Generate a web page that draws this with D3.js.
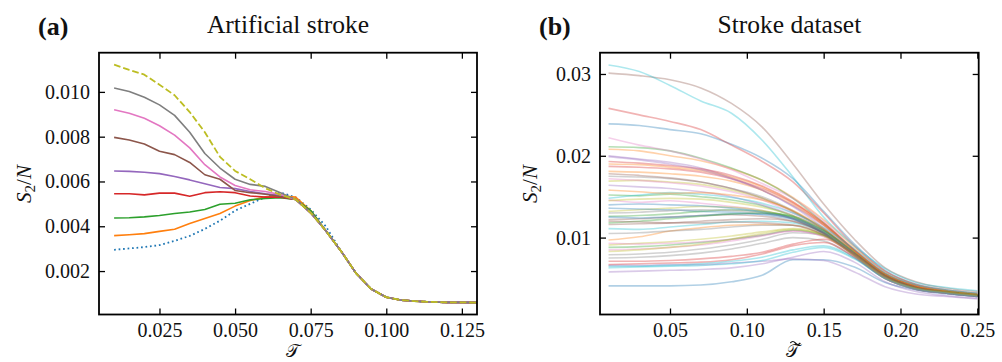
<!DOCTYPE html>
<html>
<head>
<meta charset="utf-8">
<script src="https://cdn.jsdelivr.net/npm/d3@7"></script>
<style>
  body { margin: 0; background: #fff; }
  svg { display: block; }
  text { font-family: "Liberation Serif", "Times New Roman", "DejaVu Serif", serif; fill: #111; }
</style>
</head>
<body>
<svg id="fig" width="1002" height="362"></svg>
<script>
// ---------- panel (a): artificial stroke ----------
const tauA = [0.010, 0.015, 0.020, 0.025, 0.030, 0.035, 0.040, 0.045, 0.050, 0.055,
              0.060, 0.065, 0.070, 0.075, 0.080, 0.085, 0.090, 0.095, 0.100, 0.105,
              0.110, 0.115, 0.120, 0.125, 0.130];
// all curves collapse onto the same tail after tau = 0.080
const tailA = [0.0029, 0.0019, 0.0012, 0.00083, 0.0007, 0.00065, 0.00062, 0.0006, 0.0006, 0.00059];

const blueA   = [0.00295, 0.00301, 0.00307, 0.00316, 0.00335, 0.00357, 0.00388, 0.00425, 0.0047, 0.005, 0.0053, 0.0055, 0.0053, 0.00475, 0.0040];
const orangeA = [0.00358, 0.00362, 0.00367, 0.00377, 0.00387, 0.00412, 0.00435, 0.00457, 0.0049, 0.00515, 0.0053, 0.00535, 0.0053, 0.0047, 0.0038];
const greenA  = [0.00437, 0.00438, 0.00442, 0.00448, 0.00457, 0.00464, 0.00475, 0.00498, 0.00503, 0.00518, 0.00524, 0.00527, 0.0052, 0.0047, 0.0038];
const redA    = [0.00545, 0.00545, 0.0054, 0.00548, 0.00548, 0.00534, 0.0055, 0.00554, 0.0055, 0.00535, 0.0053, 0.0053, 0.0052, 0.0046, 0.0038];
const purpleA = [0.00647, 0.00645, 0.00641, 0.00635, 0.00622, 0.00607, 0.0059, 0.00573, 0.00568, 0.00555, 0.00545, 0.00538, 0.0052, 0.0046, 0.0038];
const brownA  = [0.00797, 0.00785, 0.00767, 0.00735, 0.0072, 0.00685, 0.0063, 0.0061, 0.0056, 0.0055, 0.00543, 0.00533, 0.0052, 0.0046, 0.0038];
const pinkA   = [0.0092, 0.00905, 0.00882, 0.00849, 0.00807, 0.0075, 0.00675, 0.0062, 0.00582, 0.00563, 0.00555, 0.00542, 0.0052, 0.0046, 0.0038];
const grayA   = [0.01017, 0.01002, 0.00976, 0.00942, 0.00895, 0.0082, 0.00725, 0.0066, 0.0061, 0.00587, 0.00578, 0.0055, 0.0052, 0.0046, 0.0038];
const oliveA  = [0.01122, 0.01098, 0.01077, 0.01032, 0.00985, 0.0091, 0.0082, 0.0071, 0.00647, 0.0061, 0.0057, 0.0054, 0.0052, 0.0046, 0.0038];

const seriesA = [
  { vals: blueA,   color: "#1f77b4", dash: "1.7,2.8" },
  { vals: orangeA, color: "#ff7f0e" },
  { vals: greenA,  color: "#2ca02c" },
  { vals: redA,    color: "#d62728" },
  { vals: purpleA, color: "#9467bd" },
  { vals: brownA,  color: "#8c564b" },
  { vals: pinkA,   color: "#e377c2" },
  { vals: grayA,   color: "#7f7f7f" },
  { vals: oliveA,  color: "#bcbd22", dash: "6.7,2.9" }
];
const xTicksA = [0.025, 0.050, 0.075, 0.100, 0.125];
const yTicksA = [0.002, 0.004, 0.006, 0.008, 0.010];

// ---------- panel (b): stroke dataset (values in units of 1e-3) ----------
const tauB = [0.01, 0.03, 0.05, 0.07, 0.09, 0.11, 0.13, 0.15, 0.17, 0.19, 0.21, 0.23, 0.25];
const curvesB = [
  [23.9, 23.7, 23.2, 22.7, 21.4, 19.7, 17.2, 13.2, 9.2, 6.0, 4.3, 3.6, 3.2],
  [20.8, 20.6, 20.0, 19.4, 18.4, 17.0, 14.9, 12.2, 8.8, 5.8, 4.2, 3.5, 3.1],
  [21.1, 21.0, 20.6, 19.7, 18.5, 17.0, 14.8, 11.8, 8.4, 5.6, 4.1, 3.4, 3.0],
  [25.8, 25.0, 24.2, 23.2, 21.3, 19.3, 16.8, 13.0, 9.0, 5.9, 4.3, 3.6, 3.2],
  [20.0, 19.6, 19.2, 18.5, 17.3, 15.8, 13.9, 11.5, 8.2, 5.4, 4.0, 3.3, 2.9],
  [30.1, 29.8, 29.3, 28.3, 26.4, 23.5, 19.0, 14.1, 9.8, 6.3, 4.6, 3.8, 3.4],
  [22.2, 21.3, 20.6, 19.6, 18.3, 16.6, 14.8, 12.0, 8.5, 5.6, 4.1, 3.4, 3.0],
  [17.5, 17.4, 17.2, 16.8, 16.0, 15.0, 13.3, 11.0, 8.0, 5.3, 3.9, 3.3, 2.9],
  [16.9, 17.0, 16.8, 16.5, 15.8, 14.8, 13.2, 11.0, 8.0, 5.4, 4.0, 3.3, 2.9],
  [31.1, 30.3, 28.6, 26.7, 25.2, 21.9, 17.4, 12.5, 9.0, 6.2, 4.5, 3.9, 3.5],
  [4.1, 4.1, 4.1, 4.2, 4.6, 5.4, 7.3, 7.3, 6.4, 4.5, 3.6, 3.1, 2.8],
  [9.7, 10.1, 10.8, 11.2, 11.5, 11.6, 11.5, 10.3, 7.8, 5.0, 3.7, 3.2, 2.9],
  [15.2, 15.1, 15.3, 15.0, 14.6, 13.9, 12.6, 10.6, 7.8, 5.1, 3.8, 3.3, 2.9],
  [19.3, 19.1, 18.8, 18.4, 17.6, 16.3, 14.4, 11.8, 8.5, 5.6, 4.1, 3.4, 3.0],
  [6.6, 6.6, 6.7, 6.7, 6.9, 7.1, 7.4, 7.2, 5.8, 4.0, 3.1, 2.8, 2.5],
  [17.8, 17.6, 17.3, 16.8, 16.0, 14.8, 13.2, 11.0, 8.1, 5.3, 3.9, 3.3, 2.9],
  [14.6, 14.3, 14.5, 14.2, 13.8, 13.3, 12.3, 10.5, 7.8, 5.1, 3.8, 3.3, 2.9],
  [7.5, 7.6, 7.8, 8.1, 8.6, 9.3, 10.0, 9.6, 7.6, 5.0, 3.7, 3.2, 2.8],
  [13.2, 13.4, 13.6, 13.8, 13.7, 13.3, 12.4, 10.6, 7.9, 5.2, 3.8, 3.3, 2.9],
  [11.1, 11.0, 11.3, 11.6, 11.9, 12.0, 11.8, 10.6, 8.0, 5.3, 3.9, 3.4, 3.0],
  [13.6, 13.5, 13.4, 13.2, 13.1, 12.8, 12.2, 10.5, 7.9, 5.2, 3.8, 3.3, 2.9],
  [19.0, 18.9, 18.6, 18.2, 17.4, 16.2, 14.3, 11.7, 8.5, 5.6, 4.1, 3.5, 3.1],
  [12.6, 12.7, 12.9, 13.2, 13.4, 13.2, 12.5, 10.8, 8.1, 5.3, 3.9, 3.3, 2.9],
  [18.7, 18.6, 18.4, 18.0, 17.2, 16.0, 14.2, 11.6, 8.4, 5.5, 4.0, 3.4, 3.0],
  [16.4, 16.2, 16.0, 15.6, 15.0, 14.0, 12.7, 10.6, 7.8, 5.1, 3.7, 3.2, 2.8],
  [11.6, 11.7, 11.8, 12.0, 12.2, 12.3, 12.0, 10.6, 8.0, 5.3, 3.9, 3.3, 2.9],
  [8.5, 8.6, 8.8, 9.1, 9.6, 10.2, 10.8, 10.2, 7.9, 5.2, 3.8, 3.3, 2.9],
  [7.9, 8.0, 8.2, 8.6, 9.1, 9.8, 10.6, 10.3, 8.0, 5.3, 3.9, 3.3, 2.9],
  [9.1, 9.3, 9.5, 9.8, 10.2, 10.7, 11.1, 10.4, 7.9, 5.2, 3.8, 3.3, 2.9],
  [6.3, 6.4, 6.5, 6.6, 6.8, 7.2, 8.2, 8.8, 7.4, 5.0, 3.7, 3.2, 2.8],
  [14.0, 14.1, 14.0, 13.9, 13.6, 13.1, 12.3, 10.6, 8.0, 5.3, 3.9, 3.3, 2.9],
  [18.1, 18.0, 17.8, 17.5, 16.9, 15.8, 14.0, 11.5, 8.3, 5.4, 4.0, 3.4, 3.0],
  [8.8, 8.9, 9.1, 9.4, 9.8, 10.3, 10.9, 10.3, 7.9, 5.2, 3.8, 3.3, 2.9],
  [6.7, 6.8, 6.9, 7.0, 7.3, 8.0, 9.0, 9.4, 7.6, 5.0, 3.7, 3.2, 2.8],
  [19.9, 19.5, 19.0, 18.3, 17.2, 15.8, 13.8, 11.2, 8.1, 5.3, 3.9, 3.3, 2.9],
  [12.2, 12.3, 12.5, 12.7, 12.8, 12.6, 12.0, 10.5, 7.9, 5.2, 3.8, 3.3, 2.9],
  [17.2, 17.0, 16.7, 16.3, 15.6, 14.6, 13.0, 10.9, 8.0, 5.2, 3.8, 3.3, 2.9],
  [13.0, 13.1, 13.3, 13.4, 13.3, 13.0, 12.3, 10.6, 7.9, 5.2, 3.8, 3.3, 2.9],
  [14.5, 14.7, 14.8, 14.7, 14.3, 13.7, 12.7, 10.8, 8.0, 5.2, 3.8, 3.3, 2.9],
  [14.8, 15.2, 15.5, 15.3, 14.9, 14.2, 13.0, 11.2, 8.6, 5.7, 4.2, 3.6, 3.2],
  [12.5, 12.4, 12.5, 12.7, 12.9, 12.9, 12.4, 10.8, 8.1, 5.3, 3.9, 3.3, 2.9],
  [15.8, 15.6, 15.4, 15.5, 15.2, 14.6, 13.3, 11.1, 8.2, 5.4, 4.0, 3.4, 3.0],
  [11.8, 12.0, 12.3, 12.6, 12.9, 13.0, 12.6, 10.9, 8.2, 5.4, 3.9, 3.4, 3.0],
  [7.1, 7.1, 7.2, 7.4, 7.7, 8.2, 9.2, 9.8, 8.0, 5.3, 3.9, 3.3, 2.9],
  [5.8, 5.9, 6.0, 6.1, 6.3, 6.8, 7.6, 8.3, 7.0, 4.6, 3.4, 2.9, 2.6],
  [12.0, 11.9, 11.8, 11.8, 11.9, 11.8, 11.5, 10.3, 7.8, 5.1, 3.8, 3.2, 2.8],
  [9.3, 9.2, 9.3, 9.5, 9.8, 10.3, 10.8, 10.1, 7.7, 5.0, 3.7, 3.2, 2.8],
  [10.5, 10.6, 10.8, 11.0, 11.3, 11.5, 11.5, 10.4, 7.9, 5.2, 3.8, 3.3, 2.9],
  [8.3, 8.5, 8.8, 9.2, 9.8, 10.5, 11.0, 10.2, 7.8, 5.1, 3.8, 3.3, 2.9],
  [6.5, 6.5, 6.6, 6.8, 7.1, 7.6, 8.5, 9.0, 7.5, 5.0, 3.7, 3.2, 2.8]
];
const unitB = 1e-3;
const xTicksB = [0.05, 0.10, 0.15, 0.20, 0.25];
const yTicksB = [0.01, 0.02, 0.03];
const tab10 = d3.schemeCategory10;

const serif = "'Liberation Serif', 'Times New Roman', 'DejaVu Serif', serif";
const svg = d3.select("#fig");
const tickFont = 20;

function drawFrame(box, x, y, xTicks, yTicks, fmtX, fmtY) {
  const g = svg.append("g");
  // bottom / left axes with labels, ticks pointing inwards
  g.append("g")
    .attr("transform", "translate(0," + box.bottom + ")")
    .call(d3.axisBottom(x).tickValues(xTicks).tickFormat(d3.format(fmtX)).tickSize(-6).tickPadding(8))
    .call(a => a.select(".domain").remove());
  g.append("g")
    .attr("transform", "translate(" + box.left + ",0)")
    .call(d3.axisLeft(y).tickValues(yTicks).tickFormat(d3.format(fmtY)).tickSize(-6).tickPadding(9))
    .call(a => a.select(".domain").remove());
  // mirrored ticks on top and right
  g.append("g")
    .attr("transform", "translate(0," + box.top + ")")
    .call(d3.axisTop(x).tickValues(xTicks).tickFormat("").tickSize(-6))
    .call(a => a.select(".domain").remove());
  g.append("g")
    .attr("transform", "translate(" + box.right + ",0)")
    .call(d3.axisRight(y).tickValues(yTicks).tickFormat("").tickSize(-6))
    .call(a => a.select(".domain").remove());
  g.selectAll("g").attr("font-family", serif);
  g.selectAll(".tick line").attr("stroke", "#000").attr("stroke-width", 1.3);
  g.selectAll(".tick text")
    .attr("font-size", tickFont).attr("fill", "#111");
  g.append("rect")
    .attr("x", box.left).attr("y", box.top)
    .attr("width", box.right - box.left).attr("height", box.bottom - box.top)
    .attr("fill", "none").attr("stroke", "#000").attr("stroke-width", 1.8);
}

function yLabel(xPos, yPos) {
  const t = svg.append("text")
    .attr("transform", "translate(" + xPos + "," + yPos + ") rotate(-90)")
    .attr("text-anchor", "middle").attr("font-size", 21);
  t.append("tspan").attr("font-style", "italic").text("S");
  t.append("tspan").attr("font-size", 15).attr("dy", 4).text("2");
  t.append("tspan").attr("dy", -4).text("/");
  t.append("tspan").attr("font-style", "italic").text("N");
}

// ---- panel (a)
const boxA = { left: 99, right: 477, top: 52.7, bottom: 314.5 };
const xA = d3.scaleLinear().domain([0.005, 0.130]).range([boxA.left, boxA.right]);
const yA = d3.scaleLinear().domain([0.00006, 0.01175]).range([boxA.bottom, boxA.top]);

svg.append("clipPath").attr("id", "clipA").append("rect")
  .attr("x", boxA.left).attr("y", boxA.top)
  .attr("width", boxA.right - boxA.left).attr("height", boxA.bottom - boxA.top);

const lineA = d3.line().x(d => xA(d[0])).y(d => yA(d[1]));
const gA = svg.append("g").attr("clip-path", "url(#clipA)");
seriesA.forEach(s => {
  const vals = s.vals.concat(tailA);
  gA.append("path")
    .datum(tauA.map((t, i) => [t, vals[i]]))
    .attr("d", lineA)
    .attr("fill", "none")
    .attr("stroke", s.color)
    .attr("stroke-width", s.dash ? 1.8 : 1.6)
    .attr("stroke-dasharray", s.dash || null)
    .attr("stroke-linejoin", "round");
});
drawFrame(boxA, xA, yA, xTicksA, yTicksA, ".3f", ".3f");

// ---- panel (b)
const boxB = { left: 600, right: 978.7, top: 52.7, bottom: 314.5 };
const xB = d3.scaleLinear().domain([0.00444, 0.2509]).range([boxB.left, boxB.right]);
const yB = d3.scaleLinear().domain([0.0006, 0.0326]).range([boxB.bottom, boxB.top]);

svg.append("clipPath").attr("id", "clipB").append("rect")
  .attr("x", boxB.left).attr("y", boxB.top)
  .attr("width", boxB.right - boxB.left).attr("height", boxB.bottom - boxB.top);

const lineB = d3.line().x(d => xB(d[0])).y(d => yB(d[1] * unitB)).curve(d3.curveMonotoneX);
const gB = svg.append("g").attr("clip-path", "url(#clipB)");
curvesB.forEach((c, i) => {
  gB.append("path")
    .datum(tauB.map((t, j) => [t, c[j]]))
    .attr("d", lineB)
    .attr("fill", "none")
    .attr("stroke", tab10[i % 10])
    .attr("stroke-opacity", 0.35)
    .attr("stroke-width", 1.6);
});
drawFrame(boxB, xB, yB, xTicksB, yTicksB, ".2f", ".2f");

// ---- titles, panel letters and axis labels
svg.append("text").attr("x", 38).attr("y", 35).attr("font-size", 26).attr("font-weight", "bold").text("(a)");
svg.append("text").attr("x", 539).attr("y", 35).attr("font-size", 26).attr("font-weight", "bold").text("(b)");
svg.append("text").attr("x", (boxA.left + boxA.right) / 2).attr("y", 33)
  .attr("text-anchor", "middle").attr("font-size", 25.5).text("Artificial stroke");
svg.append("text").attr("x", (boxB.left + boxB.right) / 2).attr("y", 33)
  .attr("text-anchor", "middle").attr("font-size", 25.5).text("Stroke dataset");

yLabel(31, 184);
yLabel(537, 184);

const xLabA = (boxA.left + boxA.right) / 2 + 5;
const xLabB = (boxB.left + boxB.right) / 2 + 4;
svg.append("text").attr("x", xLabA).attr("y", 357)
  .attr("text-anchor", "middle").attr("font-size", 18).text("𝒯");
svg.append("text").attr("x", xLabB).attr("y", 357)
  .attr("text-anchor", "middle").attr("font-size", 18).text("𝒯");
// tilde accent over the second label
svg.append("path")
  .attr("d", "M" + (xLabB - 3) + ",343 q2.5,-3 5,0 t5,0")
  .attr("fill", "none").attr("stroke", "#111").attr("stroke-width", 1.2);
</script>
</body>
</html>
